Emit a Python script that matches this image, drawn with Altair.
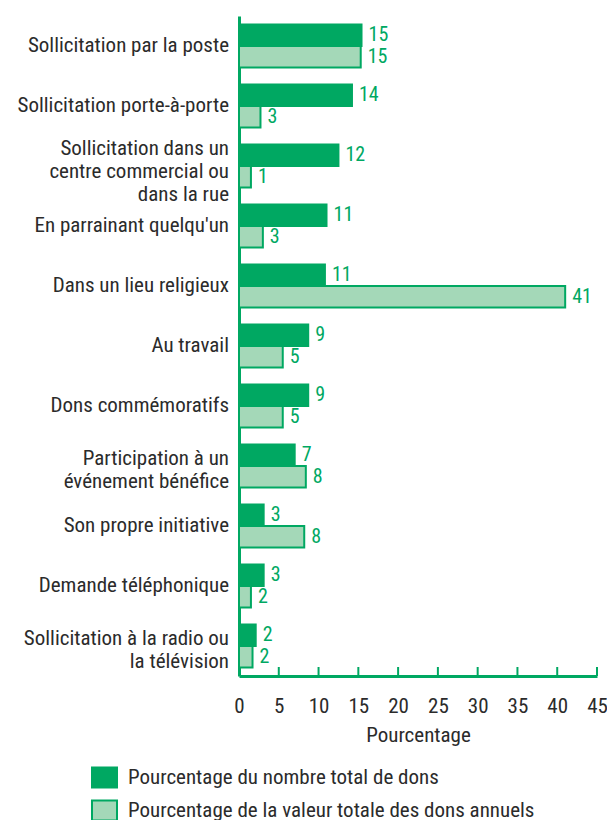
import altair as alt
import pandas as pd

categories = [
    "Sollicitation par la poste",
    "Sollicitation porte-à-porte",
    "Sollicitation dans un|centre commercial ou|dans la rue",
    "En parrainant quelqu'un",
    "Dans un lieu religieux",
    "Au travail",
    "Dons commémoratifs",
    "Participation à un|événement bénéfice",
    "Son propre initiative",
    "Demande téléphonique",
    "Sollicitation à la radio ou|la télévision",
]
series = [
    "Pourcentage du nombre total de dons",
    "Pourcentage de la valeur totale des dons annuels",
]
nombre = [15.4, 14.2, 12.5, 11.0, 10.8, 8.7, 8.7, 7.0, 3.1, 3.1, 2.1]
valeur = [15.3, 2.7, 1.5, 3.0, 41.0, 5.5, 5.5, 8.4, 8.2, 1.5, 1.7]
nombre_lbl = [15, 14, 12, 11, 11, 9, 9, 7, 3, 3, 2]
valeur_lbl = [15, 3, 1, 3, 41, 5, 5, 8, 8, 2, 2]
ticks = [5, 10, 15, 20, 25, 30, 35, 40, 45]
axis_values = [0, 5, 10, 15, 20, 25, 30, 35, 40, 45]

rows = []
for c, v, l in zip(categories, nombre, nombre_lbl):
    rows.append({"cat": c, "serie": series[0], "val": v, "lbl": str(l)})
for c, v, l in zip(categories, valeur, valeur_lbl):
    rows.append({"cat": c, "serie": series[1], "val": v, "lbl": str(l)})
df = pd.DataFrame(rows)
tdf = pd.DataFrame({"val": ticks})
cdf = pd.DataFrame({"cat": categories, "n": [c.count("|") + 1 for c in categories]})

GREEN = "#00A862"
LIGHT = "#A4D8B8"
GRAY = "#2b2b2b"
FONT = "Liberation Sans Narrow, Roboto Condensed, Arial Narrow, sans-serif"
W, H = 358, 660

x_axis = alt.Axis(title="Pourcentage", values=axis_values, tickCount=10,
                  grid=False, ticks=False, labelPadding=19, labelFontSize=21,
                  labelOverlap=False, labelFlush=False,
                  labelColor=GRAY, labelFont=FONT, domainColor=GREEN, domainWidth=3,
                  titleFontSize=21, titleColor=GRAY, titleFont=FONT,
                  titleFontWeight="normal", titlePadding=8)
x_scale = alt.Scale(domain=[0, 45], nice=False)
x_enc = alt.X("val:Q", scale=x_scale, axis=x_axis)

y_enc = alt.Y(
    "cat:N", sort=categories,
    scale=alt.Scale(paddingInner=0.28, paddingOuter=0.14),
    axis=alt.Axis(title=None, labels=False, ticks=False,
                  domainColor=GREEN, domainWidth=3),
)
yoff = alt.YOffset("serie:N", sort=series, scale=alt.Scale(paddingInner=0))

bars = alt.Chart(df).mark_bar(stroke=GREEN, strokeWidth=2).encode(
    y=y_enc,
    yOffset=yoff,
    x=x_enc,
    fill=alt.Fill("serie:N", sort=series,
                  scale=alt.Scale(domain=series, range=[GREEN, LIGHT]),
                  legend=alt.Legend(orient="none", legendX=-148, legendY=748, title=None,
                                    symbolType="M-1,-0.8H1V0.8H-1Z", symbolSize=625,
                                    symbolStrokeColor=GREEN, symbolStrokeWidth=2,
                                    labelFontSize=21, labelColor=GRAY, labelFont=FONT,
                                    labelOffset=10, rowPadding=4, labelLimit=500,
                                    symbolOpacity=1)),
)

labels = alt.Chart(df).mark_text(align="left", baseline="middle", dx=7, fontSize=20,
                                  font=FONT, color=GREEN).encode(
    y=y_enc,
    yOffset=yoff,
    x=x_enc,
    text="lbl:N",
)


def cat_layer(n, dy):
    return alt.Chart(cdf).transform_filter(alt.datum.n == n).mark_text(
        align="right", baseline="middle", lineBreak="|", lineHeight=23,
        fontSize=21, font=FONT, color=GRAY, dy=dy,
    ).encode(
        y=y_enc,
        x=alt.value(-10),
        text="cat:N",
    )


tick_marks = alt.Chart(tdf).mark_rule(color=GREEN, strokeWidth=2).encode(
    x=x_enc,
    y=alt.value(H - 9),
    y2=alt.value(H),
)

chart = alt.layer(bars, labels, cat_layer(1, 0), cat_layer(2, -7), cat_layer(3, -17),
                  tick_marks).properties(
    width=W, height=H,
    padding={"left": 231, "top": 8, "right": 10, "bottom": 144},
    autosize=alt.AutoSizeParams(type="none"),
).configure_view(stroke=None)

chart.save("out.html", embed_options={"renderer": "svg", "actions": False})
